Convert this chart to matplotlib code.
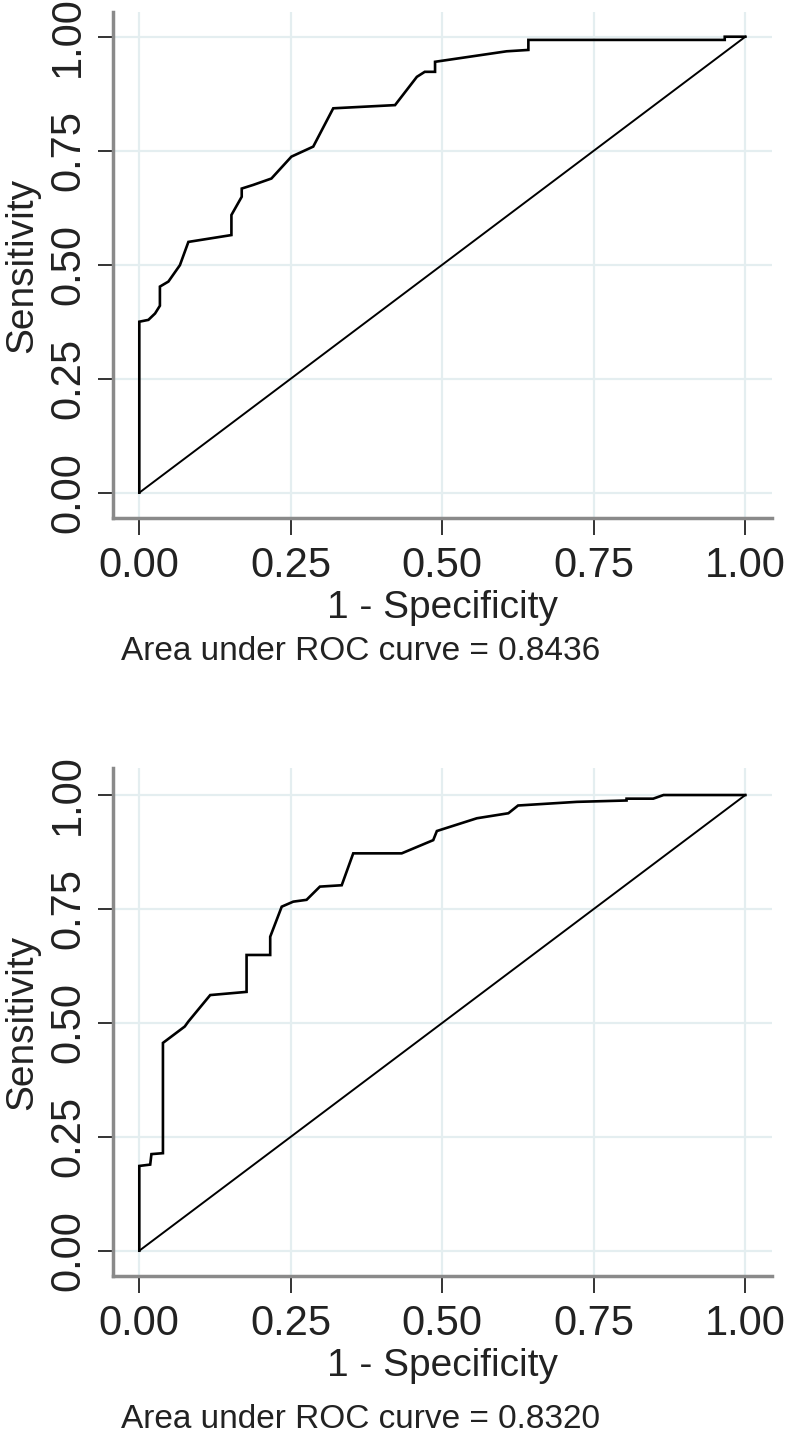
import matplotlib
matplotlib.use("Agg")
import matplotlib.pyplot as plt
from matplotlib import font_manager

# ---- data ----
fpr_top = [0, 0, 0.015, 0.026, 0.034, 0.034, 0.048, 0.067, 0.081, 0.152, 0.152, 0.169, 0.169,
           0.188, 0.218, 0.251, 0.287, 0.320, 0.422, 0.458, 0.471, 0.488, 0.488, 0.606, 0.642,
           0.642, 0.966, 0.966, 1.0]
tpr_top = [0, 0.375, 0.379, 0.393, 0.410, 0.452, 0.463, 0.499, 0.550, 0.565, 0.609, 0.649, 0.667,
           0.675, 0.689, 0.737, 0.759, 0.843, 0.850, 0.912, 0.923, 0.923, 0.945, 0.968, 0.971,
           0.993, 0.993, 1.0, 1.0]
fpr_bot = [0, 0, 0.018, 0.020, 0.039, 0.039, 0.075, 0.081, 0.117, 0.177, 0.177, 0.216, 0.216,
           0.235, 0.254, 0.276, 0.298, 0.334, 0.353, 0.433, 0.485, 0.491, 0.557, 0.609, 0.625,
           0.722, 0.804, 0.804, 0.848, 0.865, 1.0]
tpr_bot = [0, 0.186, 0.189, 0.212, 0.214, 0.456, 0.492, 0.503, 0.561, 0.568, 0.649, 0.649, 0.689,
           0.755, 0.766, 0.770, 0.799, 0.802, 0.872, 0.872, 0.901, 0.921, 0.949, 0.960, 0.977,
           0.985, 0.988, 0.992, 0.992, 1.0, 1.0]
ref_line = [0, 1]
ticks = [0.0, 0.25, 0.5, 0.75, 1.0]
tick_labels = ["0.00", "0.25", "0.50", "0.75", "1.00"]
auc_texts = ["Area under ROC curve = 0.8436", "Area under ROC curve = 0.8320"]
xlabel = "1 - Specificity"
ylabel = "Sensitivity"

names = {f.name for f in font_manager.fontManager.ttflist}
fam = "Liberation Sans Narrow" if "Liberation Sans Narrow" in names else "Liberation Sans"
plt.rcParams["font.family"] = [fam, "DejaVu Sans"]

W, H = 787, 1434
fig = plt.figure(figsize=(W / 100, H / 100), dpi=100)

def px_axes(x0, y0, x1, y1):
    return fig.add_axes([x0 / W, 1 - y1 / H, (x1 - x0) / W, (y1 - y0) / H])

spine_col = "#8a8a8a"
grid_col = "#e4eef0"

panels = [
    (px_axes(113, 12, 772, 518), fpr_top, tpr_top, auc_texts[0], 651, (-0.0555, 1.0542)),
    (px_axes(113, 768, 772, 1276), fpr_bot, tpr_bot, auc_texts[1], 1420, (-0.0555, 1.0593)),
]

for ax, fx, ty, auc, auc_y, ylim in panels:
    ax.plot(ref_line, ref_line, color="black", lw=1.4, zorder=3)
    ax.plot(fx, ty, color="black", lw=1.9, zorder=4, solid_joinstyle="miter")
    ax.set_xlim(-0.0434, 1.044)
    ax.set_ylim(*ylim)
    ax.set_xticks(ticks)
    ax.set_xticklabels(tick_labels)
    ax.set_yticks(ticks)
    ax.set_yticklabels(tick_labels, rotation=90, va="center")
    ax.grid(True, color=grid_col, lw=1.6)
    ax.set_axisbelow(True)
    for s in ["top", "right"]:
        ax.spines[s].set_visible(False)
    for s in ["left", "bottom"]:
        ax.spines[s].set_color(spine_col)
        ax.spines[s].set_linewidth(2.5)
    ax.tick_params(axis="x", length=12, width=1.4, color="#333333", pad=8, labelsize=30,
                   labelcolor="#222222")
    ax.tick_params(axis="y", length=11, width=1.4, color="#333333", pad=7, labelsize=30,
                   labelcolor="#222222")
    ax.set_xlabel(xlabel, fontsize=28, color="#222222")
    ax.xaxis.set_label_coords(0.5, -0.178)
    ax.set_ylabel(ylabel, fontsize=28, color="#222222")
    ax.yaxis.set_label_coords(-0.138, 0.5)
    ax.xaxis.label.set_va("center")
    ax.yaxis.label.set_va("center")
    fig.text(121 / W, 1 - auc_y / H, auc, fontsize=24, color="#222222", ha="left", va="center")

fig.savefig("out.png", dpi=100)
